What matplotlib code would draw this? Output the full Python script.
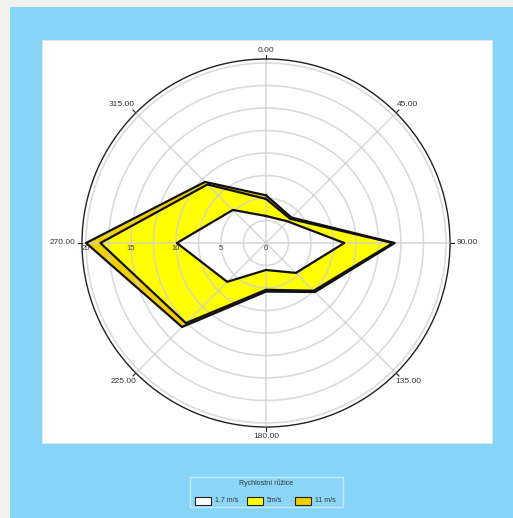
import numpy as np
import matplotlib
matplotlib.use('Agg')
import matplotlib.pyplot as plt
from matplotlib.patches import Rectangle
import matplotlib.transforms as mtransforms

# ---------------- data ----------------
directions = [0, 45, 90, 135, 180, 225, 270, 315]
dir_labels = ["0.00", "45.00", "90.00", "135.00", "180.00", "225.00", "270.00", "315.00"]
series_names = ["1.7 m/s", "5m/s", "11 m/s"]
speed_1_7 = [3.0, 3.4, 8.7, 4.7, 3.0, 6.1, 9.9, 5.2]
speed_5 = [1.9, 0.4, 5.4, 2.8, 2.2, 6.5, 8.5, 4.0]
speed_11 = [0.4, 0.2, 0.2, 0.2, 0.2, 0.6, 1.6, 0.4]
radial_ticks = [0, 5, 10, 15, 20]
grid_radii = [2.5, 5, 7.5, 10, 12.5, 15, 17.5, 20]
legend_title = "Rychlostní růžice"
series_colors = ["#FFFFFF", "#FFFF00", "#F2D000"]
rmax = 20.45

W, H = 513, 518
fig = plt.figure(figsize=(W / 100, H / 100), dpi=100)
fig.patch.set_facecolor('#F4F2EE')
plt.rcParams['font.family'] = ['Liberation Sans', 'DejaVu Sans']


def rect(x0, y0, x1, y1):
    return [x0 / W, 1 - y1 / H, (x1 - x0) / W, (y1 - y0) / H]


# blue background panel and white plot panel
fig.add_artist(Rectangle((10 / W, 0), 1, 1 - 7 / H, transform=fig.transFigure,
                         facecolor='#86D4F8', edgecolor='none', zorder=-3))
r = rect(42, 40, 492, 443)
fig.add_artist(Rectangle((r[0], r[1]), r[2], r[3], transform=fig.transFigure,
                         facecolor='white', edgecolor='#E8E8E8', lw=0.6, zorder=-2))

# ---------------- polar chart ----------------
ax = fig.add_axes(rect(82, 59, 450, 427), projection='polar')
ax.patch.set_alpha(0)
ax.set_zorder(1)
ax.set_theta_zero_location('N')
ax.set_theta_direction(-1)
ax.set_ylim(0, rmax)

theta = np.deg2rad(directions + [directions[0]])
stack = np.cumsum([speed_1_7, speed_5, speed_11], axis=0)
for i in reversed(range(3)):
    rr = list(stack[i]) + [stack[i][0]]
    ax.fill(theta, rr, facecolor=series_colors[i], edgecolor='none', zorder=1 + 0.1 * (3 - i))
for i in reversed(range(3)):
    rr = list(stack[i]) + [stack[i][0]]
    ax.plot(theta, rr, color='#111111', lw=1.6, zorder=3)

ax.set_rgrids(grid_radii, labels=[''] * len(grid_radii))
ax.set_thetagrids(directions, labels=[''] * len(directions))
ax.set_axisbelow(False)
ax.grid(True, color='#CFCFCF', lw=1.2, alpha=0.75)
ax.spines['polar'].set_color('#222222')
ax.spines['polar'].set_linewidth(1.0)
ax.tick_params(axis='both', length=0)

# small outward tick marks at each direction
for d in directions:
    ax.plot([np.deg2rad(d)] * 2, [rmax, rmax * 1.022], color='#222222', lw=0.8,
            clip_on=False, zorder=4)

# radial labels along the 270 direction
for v in radial_ticks:
    off = mtransforms.ScaledTranslation(0, -1.5 / 100, fig.dpi_scale_trans)
    ax.text(np.deg2rad(270), v, str(v), transform=ax.transData + off,
            ha='center', va='top', fontsize=5.5, color='#444444', zorder=6)

# angle labels
label_spec = {
    0: ('center', 'bottom', 0, 5),
    45: ('left', 'bottom', 1, 5),
    90: ('left', 'center', 7, 0),
    135: ('left', 'top', -1, -5),
    180: ('center', 'top', 0, -6),
    225: ('right', 'top', 1, -5),
    270: ('right', 'center', -7, 0),
    315: ('right', 'bottom', -1, 5),
}
for d, lab in zip(directions, dir_labels):
    ha, va, dx, dy = label_spec[d]
    off = mtransforms.ScaledTranslation(dx / 100, dy / 100, fig.dpi_scale_trans)
    ax.text(np.deg2rad(d), rmax, lab, transform=ax.transData + off,
            ha=ha, va=va, fontsize=6, color='#333333', clip_on=False)

# ---------------- legend ----------------
lb = rect(190, 477, 343, 507)
fig.add_artist(Rectangle((lb[0], lb[1]), lb[2], lb[3], transform=fig.transFigure,
                         facecolor='#8BD6F8', edgecolor='#C4E9FA', lw=1.0, zorder=2))
fig.text(266 / W, 1 - 483 / H, legend_title, ha='center', va='center', fontsize=5, color='#333333', zorder=3)
patch_x = [195, 247, 295]
for name, col, x0 in zip(series_names, series_colors, patch_x):
    pr = rect(x0, 497, x0 + 16, 505)
    fig.add_artist(Rectangle((pr[0], pr[1]), pr[2], pr[3], transform=fig.transFigure,
                             facecolor=col, edgecolor='#222222', lw=0.8, zorder=3))
    fig.text((x0 + 20) / W, 1 - 501 / H, name, ha='left', va='center', fontsize=5, color='#333333', zorder=3)

fig.savefig('out.png', dpi=100, facecolor=fig.get_facecolor())
